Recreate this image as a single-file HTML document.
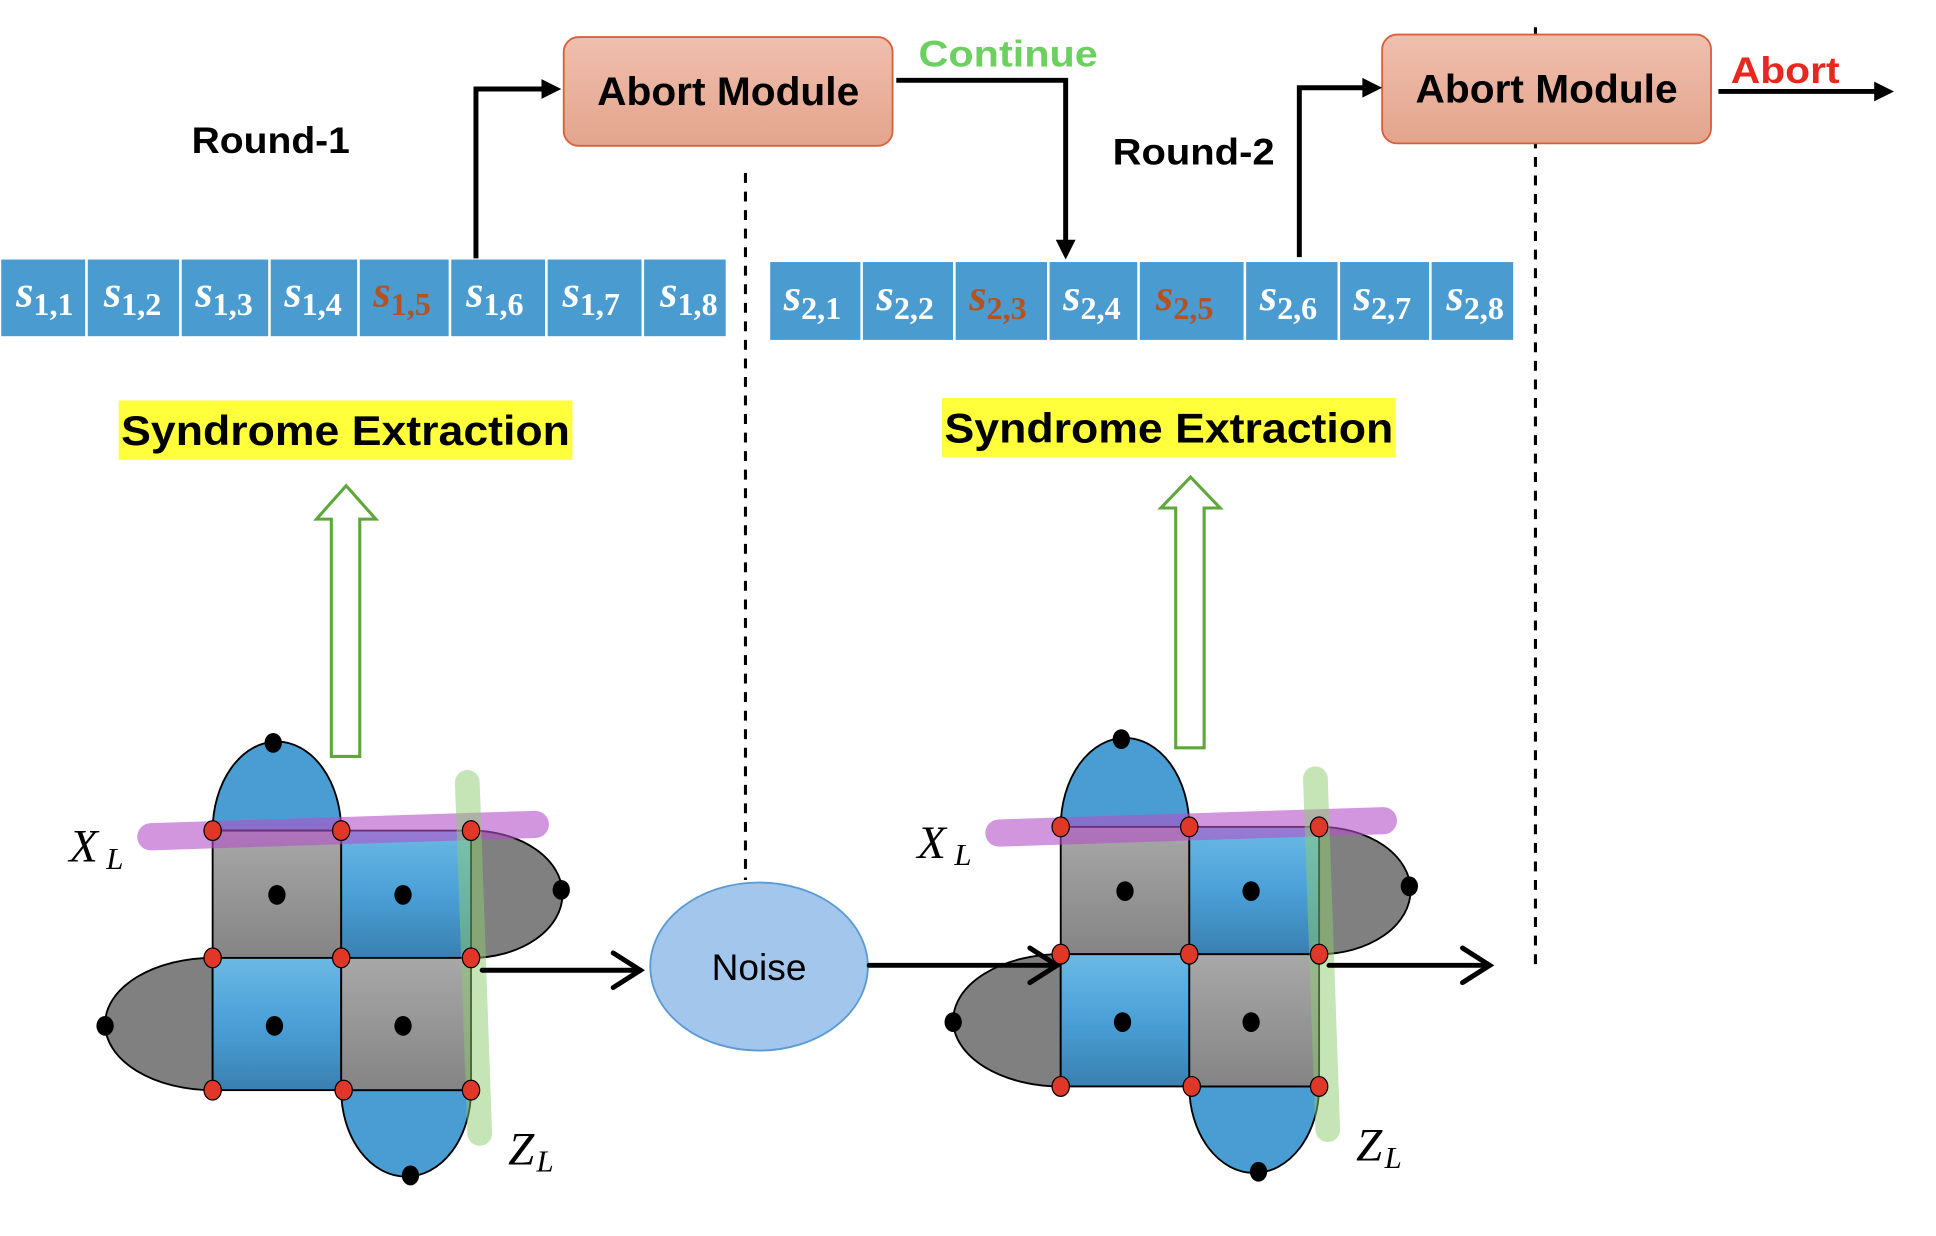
<!DOCTYPE html>
<html><head><style>body{margin:0;background:#fff}svg{display:block}</style></head><body>
<svg width="1936" height="1236" viewBox="0 0 1566 1000" preserveAspectRatio="none" xmlns="http://www.w3.org/2000/svg" font-family="Liberation Sans, sans-serif">
<defs>
<linearGradient id="gb" x1="0" y1="0" x2="0" y2="1"><stop offset="0" stop-color="#6bb9e4"/><stop offset="0.5" stop-color="#4aa0d8"/><stop offset="1" stop-color="#3a80b0"/></linearGradient>
<linearGradient id="gg" x1="0" y1="0" x2="0" y2="1"><stop offset="0" stop-color="#a8a8a8"/><stop offset="1" stop-color="#848484"/></linearGradient>
<linearGradient id="ab" x1="0" y1="0" x2="0" y2="1"><stop offset="0" stop-color="#f0bfae"/><stop offset="1" stop-color="#e3a48c"/></linearGradient>
<g id="lat">
<path d="M172,672 A52,72 0 0 1 276,672 Z" fill="#4a9dd2" stroke="#000" stroke-width="1.5"/>
<path d="M381,672 A74,51.5 0 0 1 381,775 Z" fill="#808080" stroke="#000" stroke-width="1.5"/>
<path d="M172,775 A87,53.5 0 0 0 172,882 Z" fill="#808080" stroke="#000" stroke-width="1.5"/>
<path d="M276,882 A52.5,70 0 0 0 381,882 Z" fill="#4a9dd2" stroke="#000" stroke-width="1.5"/>
<rect x="172" y="672" width="104" height="103" fill="url(#gg)" stroke="#000" stroke-width="1.5"/>
<rect x="276" y="672" width="105" height="103" fill="url(#gb)" stroke="#000" stroke-width="1.5"/>
<rect x="172" y="775" width="104" height="107" fill="url(#gb)" stroke="#000" stroke-width="1.5"/>
<rect x="276" y="775" width="105" height="107" fill="url(#gg)" stroke="#000" stroke-width="1.5"/>
<line x1="122" y1="677" x2="433" y2="667" stroke="#b450c8" stroke-opacity="0.6" stroke-width="22" stroke-linecap="round"/>
<line x1="378" y1="633" x2="388" y2="917" stroke="#8ccc70" stroke-opacity="0.5" stroke-width="20" stroke-linecap="round"/>
<g fill="#000"><ellipse cx="221" cy="601" rx="7" ry="8"/><ellipse cx="454" cy="720" rx="7" ry="8"/><ellipse cx="85" cy="830" rx="7" ry="8"/><ellipse cx="332" cy="951" rx="7" ry="8"/>
<ellipse cx="224" cy="724" rx="7" ry="8"/><ellipse cx="326" cy="724" rx="7" ry="8"/><ellipse cx="222" cy="830" rx="7" ry="8"/><ellipse cx="326" cy="830" rx="7" ry="8"/></g>
<g fill="#e03828" stroke="#000" stroke-width="1"><ellipse cx="172" cy="672" rx="7" ry="8"/><ellipse cx="276" cy="672" rx="7" ry="8"/><ellipse cx="381" cy="672" rx="7" ry="8"/><ellipse cx="172" cy="775" rx="7" ry="8"/><ellipse cx="276" cy="775" rx="7" ry="8"/><ellipse cx="381" cy="775" rx="7" ry="8"/><ellipse cx="172" cy="882" rx="7" ry="8"/><ellipse cx="278" cy="882" rx="7" ry="8"/><ellipse cx="381" cy="882" rx="7" ry="8"/></g>
<text x="56" y="697" font-family="Liberation Serif, serif" font-style="italic" font-size="38">X</text><text x="86" y="703" font-family="Liberation Serif, serif" font-style="italic" font-size="25">L</text>
<text x="411" y="942" font-family="Liberation Serif, serif" font-style="italic" font-size="38">Z</text><text x="434" y="948" font-family="Liberation Serif, serif" font-style="italic" font-size="25">L</text>
</g>
</defs>
<use href="#lat"/>
<use href="#lat" transform="translate(686,-3)"/>
<line x1="603" y1="140" x2="603" y2="712" stroke="#000" stroke-width="2.5" stroke-dasharray="8,7"/>
<line x1="1242" y1="22" x2="1242" y2="785" stroke="#000" stroke-width="2.5" stroke-dasharray="8,7"/>
<ellipse cx="614" cy="782" rx="88" ry="68" fill="#a2c6ec" stroke="#5b9bd5" stroke-width="1.5"/>
<text x="614" y="793" text-anchor="middle" font-size="30">Noise</text>
<g stroke="#000" stroke-width="4" fill="none" stroke-linecap="round">
<line x1="390" y1="785" x2="518" y2="785"/><polyline points="496,771 518,785 496,799"/>
<line x1="703" y1="781" x2="855" y2="781"/><polyline points="833,767 855,781 833,795"/>
<line x1="1075" y1="781" x2="1205" y2="781"/><polyline points="1183,767 1205,781 1183,795"/>
</g>
<path d="M268,612 L268,420 L256,420 L280,393 L304,420 L291,420 L291,612 Z" fill="#fff" stroke="#5ea83a" stroke-width="2.5"/>
<path d="M951,605 L951,411 L939,411 L963,386 L987,411 L974,411 L974,605 Z" fill="#fff" stroke="#5ea83a" stroke-width="2.5"/>
<rect x="96" y="324" width="367" height="48" fill="#ffff3c"/>
<text x="98" y="360" font-size="34" font-weight="bold" textLength="363" lengthAdjust="spacingAndGlyphs">Syndrome Extraction</text>
<rect x="762" y="322" width="367" height="48" fill="#ffff3c"/>
<text x="764" y="358" font-size="34" font-weight="bold" textLength="363" lengthAdjust="spacingAndGlyphs">Syndrome Extraction</text>
<g fill="#4a9bd0" stroke="#fff" stroke-width="2">
<rect x="0" y="209" width="70" height="64"/><rect x="70" y="209" width="76" height="64"/><rect x="146" y="209" width="72" height="64"/><rect x="218" y="209" width="72" height="64"/><rect x="290" y="209" width="74" height="64"/><rect x="364" y="209" width="78" height="64"/><rect x="442" y="209" width="78" height="64"/><rect x="520" y="209" width="68" height="64"/>
<rect x="622" y="211" width="75" height="65"/><rect x="697" y="211" width="75" height="65"/><rect x="772" y="211" width="76" height="65"/><rect x="848" y="211" width="73" height="65"/><rect x="921" y="211" width="86" height="65"/><rect x="1007" y="211" width="76" height="65"/><rect x="1083" y="211" width="74" height="65"/><rect x="1157" y="211" width="68" height="65"/>
</g>
<g font-family="Liberation Serif, serif" font-weight="bold" fill="#fff">
<text x="13" y="248" font-size="36" font-style="italic">s<tspan font-size="26" font-style="normal" dy="7">1,1</tspan></text>
<text x="84" y="248" font-size="36" font-style="italic">s<tspan font-size="26" font-style="normal" dy="7">1,2</tspan></text>
<text x="158" y="248" font-size="36" font-style="italic">s<tspan font-size="26" font-style="normal" dy="7">1,3</tspan></text>
<text x="230" y="248" font-size="36" font-style="italic">s<tspan font-size="26" font-style="normal" dy="7">1,4</tspan></text>
<text x="302" y="248" font-size="36" font-style="italic" fill="#b5521f">s<tspan font-size="26" font-style="normal" dy="7">1,5</tspan></text>
<text x="377" y="248" font-size="36" font-style="italic">s<tspan font-size="26" font-style="normal" dy="7">1,6</tspan></text>
<text x="455" y="248" font-size="36" font-style="italic">s<tspan font-size="26" font-style="normal" dy="7">1,7</tspan></text>
<text x="534" y="248" font-size="36" font-style="italic">s<tspan font-size="26" font-style="normal" dy="7">1,8</tspan></text>
<text x="634" y="251" font-size="36" font-style="italic">s<tspan font-size="26" font-style="normal" dy="7">2,1</tspan></text>
<text x="709" y="251" font-size="36" font-style="italic">s<tspan font-size="26" font-style="normal" dy="7">2,2</tspan></text>
<text x="784" y="251" font-size="36" font-style="italic" fill="#b5521f">s<tspan font-size="26" font-style="normal" dy="7">2,3</tspan></text>
<text x="860" y="251" font-size="36" font-style="italic">s<tspan font-size="26" font-style="normal" dy="7">2,4</tspan></text>
<text x="935" y="251" font-size="36" font-style="italic" fill="#b5521f">s<tspan font-size="26" font-style="normal" dy="7">2,5</tspan></text>
<text x="1019" y="251" font-size="36" font-style="italic">s<tspan font-size="26" font-style="normal" dy="7">2,6</tspan></text>
<text x="1095" y="251" font-size="36" font-style="italic">s<tspan font-size="26" font-style="normal" dy="7">2,7</tspan></text>
<text x="1170" y="251" font-size="36" font-style="italic">s<tspan font-size="26" font-style="normal" dy="7">2,8</tspan></text>
</g>
<rect x="456" y="30" width="266" height="88" rx="12" fill="url(#ab)" stroke="#d9603b" stroke-width="1.5"/>
<text x="483" y="85" font-size="32" font-weight="bold" textLength="212" lengthAdjust="spacingAndGlyphs">Abort Module</text>
<rect x="1118" y="28" width="266" height="88" rx="12" fill="url(#ab)" stroke="#d9603b" stroke-width="1.5"/>
<text x="1145" y="83" font-size="32" font-weight="bold" textLength="212" lengthAdjust="spacingAndGlyphs">Abort Module</text>
<text x="155" y="124" font-size="30" font-weight="bold" textLength="128" lengthAdjust="spacingAndGlyphs">Round-1</text>
<text x="900" y="133" font-size="30" font-weight="bold" textLength="131" lengthAdjust="spacingAndGlyphs">Round-2</text>
<text x="743" y="54" font-size="30" font-weight="bold" fill="#6cd060" textLength="145" lengthAdjust="spacingAndGlyphs">Continue</text>
<text x="1400" y="67" font-size="30" font-weight="bold" fill="#e8281e" textLength="88" lengthAdjust="spacingAndGlyphs">Abort</text>
<g stroke="#000" stroke-width="4" fill="none">
<polyline points="385,209 385,72 440,72"/>
<polyline points="725,65 862,65 862,196"/>
<polyline points="1051,208 1051,71 1104,71"/>
<line x1="1390" y1="74" x2="1518" y2="74"/>
</g>
<g fill="#000">
<path d="M438,64 L454,72 L438,80 Z"/>
<path d="M854,194 L862,210 L870,194 Z"/>
<path d="M1102,63 L1118,71 L1102,79 Z"/>
<path d="M1516,66 L1532,74 L1516,82 Z"/>
</g>
</svg>
</body></html>
